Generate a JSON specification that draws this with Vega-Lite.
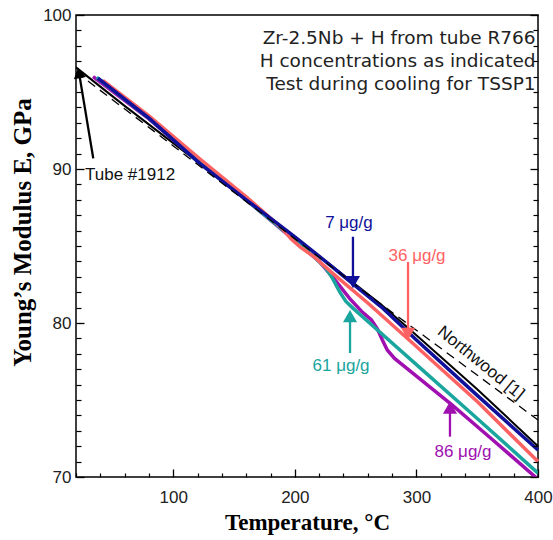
{
"$schema":"https://vega.github.io/schema/vega-lite/v6.json",
"width":462,"height":462,
"autosize":{"type":"none"},
"padding":{"left":76,"top":15,"right":15,"bottom":63},
"background":"white",
"config":{
 "view":{"stroke":"#000","strokeWidth":1.5},
 "axis":{"labelFont":"Liberation Sans","labelFontSize":17,"labelColor":"#222","titleFont":"Liberation Serif","titleFontWeight":"bold","titleFontSize":23,"titleColor":"#000","grid":false,"labelFlush":false,"labelOverlap":false}
},
"datasets":{
 "curves":[
  {"s":"tube","T":20,"E":96.6},{"s":"tube","T":60,"E":94.1},{"s":"tube","T":122,"E":90.35},{"s":"tube","T":145,"E":89.0},{"s":"tube","T":200,"E":85.6},{"s":"tube","T":250,"E":82.5},{"s":"tube","T":271,"E":81.2},{"s":"tube","T":300,"E":79.2},{"s":"tube","T":350,"E":75.7},{"s":"tube","T":400,"E":72.0},
  {"s":"86","T":34,"E":96.0},{"s":"86","T":80,"E":93.25},{"s":"86","T":122,"E":90.4},{"s":"86","T":160,"E":88.0},{"s":"86","T":200,"E":85.35},{"s":"86","T":220,"E":84.0},{"s":"86","T":232,"E":82.9},{"s":"86","T":245,"E":81.6},{"s":"86","T":255,"E":80.75},{"s":"86","T":263,"E":80.2},{"s":"86","T":268,"E":79.6},{"s":"86","T":272,"E":78.9},{"s":"86","T":276,"E":78.25},{"s":"86","T":282,"E":77.7},{"s":"86","T":300,"E":76.55},{"s":"86","T":329,"E":74.7},{"s":"86","T":360,"E":72.6},{"s":"86","T":400,"E":69.85},
  {"s":"61","T":37,"E":95.95},{"s":"61","T":80,"E":93.3},{"s":"61","T":122,"E":90.4},{"s":"61","T":160,"E":88.0},{"s":"61","T":200,"E":85.4},{"s":"61","T":215,"E":84.35},{"s":"61","T":225,"E":83.6},{"s":"61","T":231,"E":82.9},{"s":"61","T":237,"E":82.0},{"s":"61","T":242,"E":81.4},{"s":"61","T":248,"E":80.95},{"s":"61","T":255,"E":80.45},{"s":"61","T":300,"E":77.3},{"s":"61","T":350,"E":73.8},{"s":"61","T":400,"E":70.25},
  {"s":"36","T":42,"E":95.75},{"s":"36","T":80,"E":93.45},{"s":"36","T":122,"E":90.65},{"s":"36","T":160,"E":88.2},{"s":"36","T":190,"E":86.1},{"s":"36","T":197,"E":85.45},{"s":"36","T":205,"E":84.9},{"s":"36","T":215,"E":84.35},{"s":"36","T":230,"E":83.3},{"s":"36","T":260,"E":81.3},{"s":"36","T":294,"E":78.9},{"s":"36","T":350,"E":74.9},{"s":"36","T":400,"E":71.0},
  {"s":"7","T":38,"E":95.9},{"s":"7","T":80,"E":93.3},{"s":"7","T":122,"E":90.35},{"s":"7","T":160,"E":88.0},{"s":"7","T":200,"E":85.6},{"s":"7","T":230,"E":83.7},{"s":"7","T":250,"E":82.4},{"s":"7","T":271,"E":81.05},{"s":"7","T":300,"E":78.9},{"s":"7","T":350,"E":75.3},{"s":"7","T":400,"E":71.75},
  {"s":"northwood","T":20,"E":96.3},{"s":"northwood","T":100,"E":91.5},{"s":"northwood","T":255,"E":82.15},{"s":"northwood","T":400,"E":73.7}
 ],
 "arrows":[
  {"s":"7","T":247.8,"T2":247.8,"E":85.6,"E2":82.7},
  {"s":"36","T":293.1,"T2":293.1,"E":83.96,"E2":79.3},
  {"s":"61","T":245.4,"T2":245.4,"E":78.05,"E2":80.45},
  {"s":"86","T":327.6,"T2":327.6,"E":72.62,"E2":74.5},
  {"s":"tube","T":34.2,"T2":22.5,"E":90.69,"E2":96.24}
 ],
 "heads":[
  {"s":"7","T":247.8,"E":82.66},
  {"s":"36","T":293.1,"E":79.29},
  {"s":"61","T":245.4,"E":80.45},
  {"s":"86","T":327.6,"E":74.5},
  {"s":"tube","T":22.5,"E":96.24}
 ],
 "labels":[
  {"s":"7","T":244.5,"E":86.5,"label":"7 μg/g"},
  {"s":"36","T":300.5,"E":84.35,"label":"36 μg/g"},
  {"s":"61","T":238,"E":77.2,"label":"61 μg/g"},
  {"s":"86","T":338.3,"E":71.6,"label":"86 μg/g"}
 ],
 "notes":[
  {"T":398,"E":98.5,"label":"Zr-2.5Nb + H from tube R766"},
  {"T":398,"E":97.0,"label":"H concentrations as indicated"},
  {"T":398,"E":95.5,"label":"Test during cooling for TSSP1"}
 ]
},
"resolve":{"axis":{"x":"independent","y":"independent"}},
"layer":[
 {"data":{"name":"curves"},"transform":[{"filter":"datum.s==='tube'"}],
  "mark":{"type":"line","color":"#000","strokeWidth":2},
  "encoding":{
   "x":{"field":"T","type":"quantitative","scale":{"domain":[20,400],"nice":false,"zero":false},
    "axis":{"orient":"bottom","title":"Temperature,  °C","values":[100,200,300,400],"zindex":3,
     "domain":false,"ticks":true,"tickColor":"#000000","tickWidth":1.3,"tickOpacity":1,
     "offset":-8,"tickSize":8,"labelPadding":12,"titleX":231,"titleY":53,"titleBaseline":"middle","titleAlign":"center"}},
   "y":{"field":"E","type":"quantitative","scale":{"domain":[70,100],"nice":false,"zero":false},
    "axis":{"orient":"left","title":"Young’s Modulus  E, GPa","titleFontSize":25,"values":[70,80,90,100],"zindex":3,
     "domain":false,"ticks":true,"tickColor":"#000000","tickWidth":1.3,"tickOpacity":1,
     "offset":-8,"tickSize":8,"labelPadding":5,"titleX":-62,"titleY":217,"titleBaseline":"middle","titleAlign":"center"}}
  }},
 {"data":{"name":"curves"},"transform":[{"filter":"datum.s==='86'"}],
  "mark":{"type":"line","color":"#a010b0","strokeWidth":3.5,"clip":true},
  "encoding":{
   "x":{"field":"T","type":"quantitative","axis":{"orient":"bottom","title":null,"labels":false,"domain":false,"ticks":true,"tickColor":"#000000","tickWidth":1.2,"tickOpacity":1,"zindex":3,"offset":-4,"tickSize":4,"values":[20,40,60,80,120,140,160,180,220,240,260,280,320,340,360,380]}},
   "y":{"field":"E","type":"quantitative","axis":{"orient":"left","title":null,"labels":false,"domain":false,"ticks":true,"tickColor":"#000000","tickWidth":1.2,"tickOpacity":1,"zindex":3,"offset":-5,"tickSize":5,"values":[71,72,73,74,75,76,77,78,79,81,82,83,84,85,86,87,88,89,91,92,93,94,95,96,97,98,99]}}}},
 {"data":{"name":"curves"},"transform":[{"filter":"datum.s==='61'"}],
  "mark":{"type":"line","color":"#1aa59e","strokeWidth":3.5},
  "encoding":{"x":{"field":"T","type":"quantitative","axis":null},
   "y":{"field":"E","type":"quantitative","axis":{"orient":"right","title":null,"labels":false,"domain":false,"ticks":true,"tickColor":"#000000","tickWidth":1.3,"tickOpacity":1,"zindex":3,"offset":-8,"tickSize":8,"values":[70,80,90,100]}}}},
 {"data":{"name":"curves"},"transform":[{"filter":"datum.s==='36'"}],
  "mark":{"type":"line","color":"#ff6262","strokeWidth":3.5},
  "encoding":{"x":{"field":"T","type":"quantitative","axis":null},
   "y":{"field":"E","type":"quantitative","axis":{"orient":"right","title":null,"labels":false,"domain":false,"ticks":true,"tickColor":"#000000","tickWidth":1.2,"tickOpacity":1,"zindex":3,"offset":-5,"tickSize":5,"values":[71,72,73,74,75,76,77,78,79,81,82,83,84,85,86,87,88,89,91,92,93,94,95,96,97,98,99]}}}},
 {"data":{"name":"curves"},"transform":[{"filter":"datum.s==='7'"}],
  "mark":{"type":"line","color":"#10109a","strokeWidth":3.5},
  "encoding":{"x":{"field":"T","type":"quantitative","axis":null},"y":{"field":"E","type":"quantitative","axis":null}}},
 {"data":{"name":"curves"},"transform":[{"filter":"datum.s==='northwood'"}],
  "mark":{"type":"line","color":"#000","strokeWidth":1.3,"strokeDash":[9,6]},
  "encoding":{"x":{"field":"T","type":"quantitative","axis":null},"y":{"field":"E","type":"quantitative","axis":null}}},
 {"data":{"name":"arrows"},
  "mark":{"type":"rule","strokeWidth":2.3},
  "encoding":{"x":{"field":"T","type":"quantitative","axis":null},"x2":{"field":"T2"},
   "y":{"field":"E","type":"quantitative","axis":null},"y2":{"field":"E2"},
   "color":{"field":"s","type":"nominal","legend":null,"scale":{"domain":["tube","7","36","61","86"],"range":["#000000","#10109a","#ff6262","#1aa59e","#a010b0"]}}}},
 {"data":{"name":"heads"},"transform":[{"filter":"datum.s==='7' || datum.s==='36'"}],
  "mark":{"type":"point","shape":"triangle-down","filled":true,"size":200,"opacity":1},
  "encoding":{"x":{"field":"T","type":"quantitative","axis":null},"y":{"field":"E","type":"quantitative","axis":null},
   "color":{"field":"s","type":"nominal","legend":null}}},
 {"data":{"name":"heads"},"transform":[{"filter":"datum.s==='61' || datum.s==='86'"}],
  "mark":{"type":"point","shape":"triangle-up","filled":true,"size":200,"opacity":1},
  "encoding":{"x":{"field":"T","type":"quantitative","axis":null},"y":{"field":"E","type":"quantitative","axis":null},
   "color":{"field":"s","type":"nominal","legend":null}}},
 {"data":{"name":"heads"},"transform":[{"filter":"datum.s==='tube'"}],
  "mark":{"type":"point","shape":"triangle-up","filled":true,"size":150,"opacity":1,"angle":-9.5},
  "encoding":{"x":{"field":"T","type":"quantitative","axis":null},"y":{"field":"E","type":"quantitative","axis":null},
   "color":{"field":"s","type":"nominal","legend":null}}},
 {"data":{"name":"labels"},
  "mark":{"type":"text","font":"Liberation Sans","fontSize":17,"align":"center","baseline":"middle"},
  "encoding":{"x":{"field":"T","type":"quantitative","axis":null},"y":{"field":"E","type":"quantitative","axis":null},
   "text":{"field":"label"},"color":{"field":"s","type":"nominal","legend":null}}},
 {"data":{"values":[{"T":27.4,"E":89.64,"label":"Tube #1912"}]},
  "mark":{"type":"text","font":"Liberation Sans","fontSize":17,"align":"left","baseline":"middle","color":"#111"},
  "encoding":{"x":{"field":"T","type":"quantitative","axis":null},"y":{"field":"E","type":"quantitative","axis":null},"text":{"field":"label"}}},
 {"data":{"values":[{"T":353,"E":77.4,"label":"Northwood [1]"}]},
  "mark":{"type":"text","font":"Liberation Sans","fontSize":17,"align":"center","baseline":"middle","angle":39,"color":"#111"},
  "encoding":{"x":{"field":"T","type":"quantitative","axis":null},"y":{"field":"E","type":"quantitative","axis":null},"text":{"field":"label"}}},
 {"data":{"name":"notes"},
  "mark":{"type":"text","font":"DejaVu Sans","fontSize":18.5,"align":"right","baseline":"middle","color":"#222"},
  "encoding":{"x":{"field":"T","type":"quantitative","axis":null},"y":{"field":"E","type":"quantitative","axis":null},"text":{"field":"label"}}}
]
}
